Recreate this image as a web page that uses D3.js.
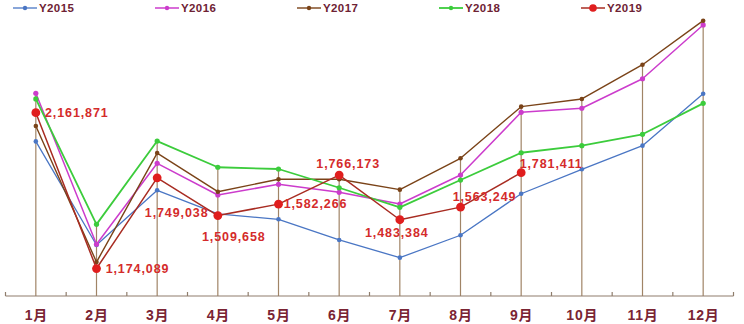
<!DOCTYPE html>
<html>
<head>
<meta charset="utf-8">
<script src="https://cdn.jsdelivr.net/npm/d3@7"></script>
<style>
  body { margin: 0; background: #fff; }
  svg { display: block; }
</style>
</head>
<body>
<svg id="chart" width="744" height="324"></svg>
<script>
// Monthly volumes, 2015–2019
const months = ["1月", "2月", "3月", "4月", "5月", "6月", "7月", "8月", "9月", "10月", "11月", "12月"];
const seriesNames = ["Y2015", "Y2016", "Y2017", "Y2018", "Y2019"];

const y2015 = [1980000, 1323000, 1670000, 1520000, 1486000, 1355000, 1243000, 1385000, 1648000, 1803000, 1953000, 2282000];
const y2016 = [2285000, 1328000, 1841000, 1640000, 1708000, 1657000, 1583000, 1767000, 2164000, 2190000, 2377000, 2718000];
const y2017 = [2077000, 1215000, 1906000, 1661000, 1740000, 1740000, 1674000, 1873000, 2200000, 2249000, 2466000, 2745000];
const y2018 = [2249000, 1454000, 1982000, 1816000, 1805000, 1686000, 1562000, 1735000, 1908000, 1953000, 2025000, 2221000];
const y2019 = [2161871, 1174089, 1749038, 1509658, 1582266, 1766173, 1483384, 1563249, 1781411, null, null, null];

const yMin = 1000000, yMax = 2800000;

// Styling per series
const seriesColors = ["#4a76c4", "#cc3ccc", "#7a4318", "#3ccc3c", "#a82c22"];
const markerColors = ["#4a76c4", "#cc3ccc", "#7a4318", "#3ccc3c", "#e01e1e"];
const markerRadius = [2.3, 2.6, 2.3, 2.6, 4.4];
const lineWidths = [1.3, 1.5, 1.4, 1.8, 1.5];

// Data-label placement (offset of label centre from its point)
const labelShift = [[41, 0], [41, 0], [19.5, 35.5], [16, 21], [37, 0], [9, -11], [-3, 13], [24, -10.5], [30, -8.5]];

const allSeries = [y2015, y2016, y2017, y2018, y2019];

const svg = d3.select("#chart");
const axisY = 296;

const x = d3.scalePoint().domain(months).range([5.5, 733.5]).padding(0.5);
const step = x.step();
const y = d3.scaleLinear().domain([yMin, yMax]).range([axisY, 12]);

// Drop lines from the highest point of each month to the axis
const monthMax = months.map((m, i) => d3.max(allSeries, s => s[i]));
svg.append("g")
  .selectAll("line")
  .data(months)
  .join("line")
  .attr("x1", d => x(d)).attr("x2", d => x(d))
  .attr("y1", (d, i) => y(monthMax[i]))
  .attr("y2", axisY)
  .attr("stroke", "#a08466")
  .attr("stroke-width", 1.2);

// Category axis: baseline with ticks between months
const axisG = svg.append("g");
axisG.append("line")
  .attr("x1", x(months[0]) - step / 2)
  .attr("x2", x(months[months.length - 1]) + step / 2)
  .attr("y1", axisY).attr("y2", axisY)
  .attr("stroke", "#8f7d6c").attr("stroke-width", 1.2);
const boundaries = months.map(m => x(m) - step / 2).concat([x(months[months.length - 1]) + step / 2]);
axisG.selectAll("line.tick")
  .data(boundaries)
  .join("line")
  .attr("class", "tick")
  .attr("x1", d => d).attr("x2", d => d)
  .attr("y1", axisY).attr("y2", axisY - 4)
  .attr("stroke", "#8f7d6c").attr("stroke-width", 1.2);

const labelAxis = svg.append("g")
  .attr("transform", `translate(0,${axisY})`)
  .call(d3.axisBottom(x).tickSize(0).tickPadding(0));
labelAxis.select(".domain").remove();
labelAxis.selectAll("text")
  .attr("y", 24)
  .attr("dy", 0)
  .attr("fill", "#7a2433")
  .style("font-family", "'Liberation Sans', Arial, 'Noto Sans CJK SC', sans-serif")
  .style("font-weight", "bold")
  .style("font-size", "14px")
  .style("letter-spacing", "0.8px");

// Series lines and markers
const lineGen = d3.line()
  .defined(d => d != null)
  .x((d, i) => x(months[i]))
  .y(d => y(d));

allSeries.forEach((s, k) => {
  svg.append("path")
    .datum(s)
    .attr("d", lineGen)
    .attr("fill", "none")
    .attr("stroke", seriesColors[k])
    .attr("stroke-width", lineWidths[k])
    .attr("stroke-linejoin", "round");
  svg.append("g")
    .selectAll("circle")
    .data(s.map((v, i) => ({ v, i })).filter(d => d.v != null))
    .join("circle")
    .attr("cx", d => x(months[d.i]))
    .attr("cy", d => y(d.v))
    .attr("r", markerRadius[k])
    .attr("fill", markerColors[k]);
});

// Value labels for 2019
const fmt = d3.format(",");
svg.append("g")
  .selectAll("text")
  .data(y2019.map((v, i) => ({ v, i })).filter(d => d.v != null))
  .join("text")
  .attr("x", d => x(months[d.i]) + labelShift[d.i][0])
  .attr("y", d => y(d.v) + labelShift[d.i][1])
  .attr("text-anchor", "middle")
  .attr("dominant-baseline", "central")
  .attr("fill", "#d42b2b")
  .style("font-family", "'Liberation Sans', Arial, sans-serif")
  .style("font-weight", "bold")
  .style("font-size", "12.5px")
  .style("letter-spacing", "0.9px")
  .text(d => fmt(d.v));

// Legend
const legend = svg.append("g")
  .selectAll("g")
  .data(seriesNames)
  .join("g")
  .attr("transform", (d, i) => `translate(${13 + i * 142},8)`);
legend.append("line")
  .attr("x1", 0).attr("x2", 24).attr("y1", 0).attr("y2", 0)
  .attr("stroke", (d, i) => seriesColors[i])
  .attr("stroke-width", (d, i) => lineWidths[i]);
legend.append("circle")
  .attr("cx", 12).attr("cy", 0)
  .attr("r", (d, i) => i === 4 ? 3.8 : 2.2)
  .attr("fill", (d, i) => markerColors[i]);
legend.append("text")
  .attr("x", 26).attr("y", 0)
  .attr("dominant-baseline", "central")
  .attr("fill", "#6e2234")
  .style("font-family", "'Liberation Sans', Arial, sans-serif")
  .style("font-weight", "bold")
  .style("font-size", "11.5px")
  .style("letter-spacing", "0.4px")
  .text(d => d);
</script>
</body>
</html>
